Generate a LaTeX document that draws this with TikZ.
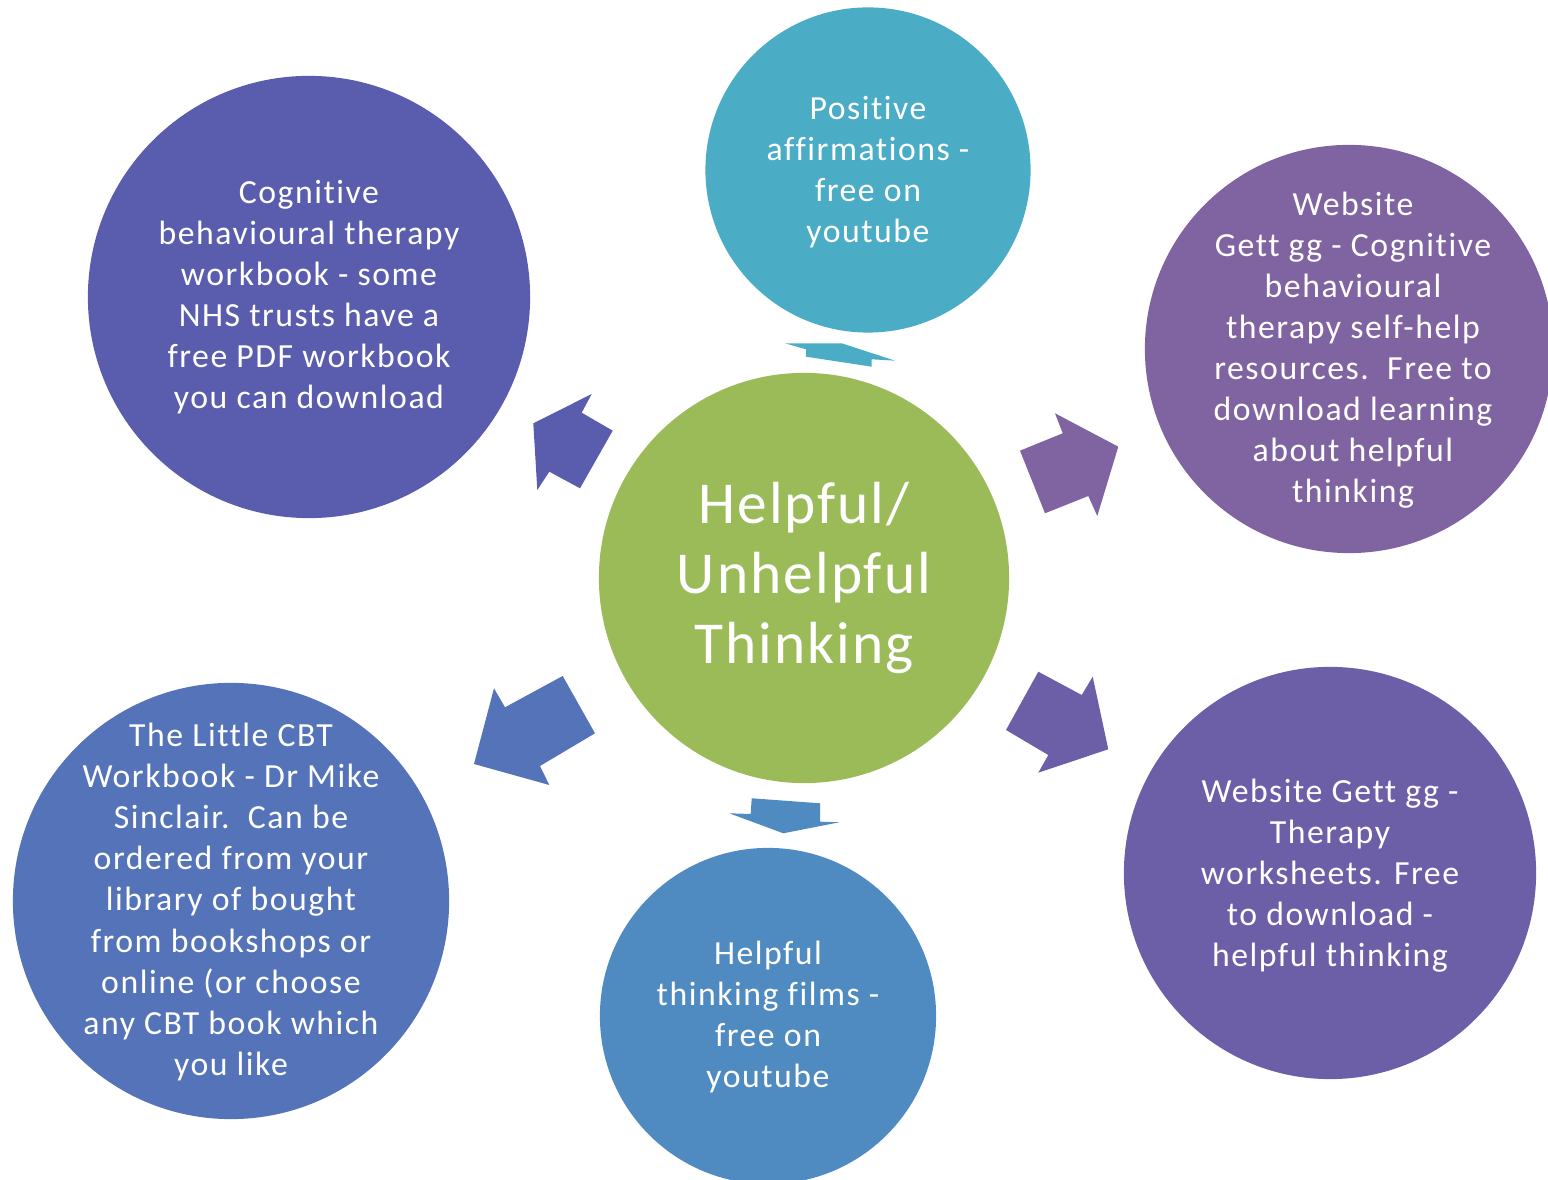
\documentclass[tikz,border=0pt]{standalone}
\usepackage{fontspec}
\setmainfont{Carlito}
\newfontfamily\smallfont{Carlito}[LetterSpace=4.5,Ligatures=CommonOff]
\newfontfamily\bigfont{Carlito}[LetterSpace=3.5,Ligatures=CommonOff]
\definecolor{cgreen}{HTML}{9BBB59}
\definecolor{cteal}{HTML}{4BACC6}
\definecolor{cindigo}{HTML}{5A5DAE}
\definecolor{cpurple}{HTML}{8064A2}
\definecolor{cviolet}{HTML}{6C5FA7}
\definecolor{cblue}{HTML}{4F8BC0}
\definecolor{croyal}{HTML}{5473B8}
\begin{document}
\begin{tikzpicture}[x=0.01cm,y=-0.01cm,
  bubble/.style={circle,inner sep=0pt,draw=none},
  txt/.style={text=white,align=center,font=\smallfont\fontsize{9.6pt}{11.67pt}\selectfont},
  bigtxt/.style={text=white,align=center,font=\bigfont\fontsize{16.9pt}{19.9pt}\selectfont}]
\useasboundingbox (0,0) rectangle (1548,1180);
% circles
\node[bubble,fill=cgreen,minimum size=4.10cm] (hub) at (804,578) {};
\node[bubble,fill=cteal,minimum size=3.25cm] (pos) at (868,170) {};
\node[bubble,fill=cindigo,minimum size=4.42cm] (cbt) at (309,297) {};
\node[bubble,fill=cpurple,minimum size=4.08cm] (web1) at (1349,349) {};
\node[bubble,fill=cviolet,minimum size=4.12cm] (web2) at (1330,873) {};
\node[bubble,fill=cblue,minimum size=3.36cm] (films) at (768,1016) {};
\node[bubble,fill=croyal,minimum size=4.36cm] (little) at (231,901) {};
% block arrows
\fill[cindigo] (591.7,394) -- (581.7,412.7) -- (612.7,430.7) -- (580,488.3) -- (549.3,471.7) -- (537.3,490) -- (533.3,423.3) -- cycle;
\fill[cteal] (785,343.3) -- (841.7,343.3) -- (895,360.7) -- (871.7,359.3) -- (871.7,366.7) -- (806,356.7) -- (806,349.3) -- cycle;
\fill[cpurple] (1055,413.3) -- (1062.7,433.3) -- (1020,450.7) -- (1045,513.3) -- (1088.3,496) -- (1097.3,516) -- (1118.3,446.7) -- cycle;
\fill[cviolet] (1038.3,671.7) -- (1081.7,695) -- (1092.7,676.7) -- (1108.3,749.3) -- (1038.3,772.7) -- (1048.3,755) -- (1006,730) -- cycle;
\fill[cblue] (751.7,798.3) -- (820,803.3) -- (820,821.7) -- (839.3,822.3) -- (783.3,833.3) -- (729.3,813.3) -- (750.7,814) -- cycle;
\fill[croyal] (562.7,676) -- (595,733.3) -- (540,766) -- (549.3,785) -- (474,764) -- (494,688.3) -- (505,707.3) -- cycle;
% texts
\node[bigtxt] (hubt) at (hub.center) {Helpful/\\Unhelpful\\Thinking};
\node[txt] (post) at (868,172) {Positive\\affirmations -\\free on\\youtube};
\node[txt] (cbtt) at (cbt.center) {Cognitive\\behavioural therapy\\workbook - some\\NHS trusts have a\\free PDF workbook\\you can download};
\node[txt] (web1t) at (1353,350) {Website\\Gett gg - Cognitive\\behavioural\\therapy self-help\\resources.\ \ Free to\\download learning\\about helpful\\thinking};
\node[txt] (web2t) at (1330,876) {Website Gett gg -\\Therapy\\worksheets. Free\\to download -\\helpful thinking};
\node[txt] (filmst) at (768,1017) {Helpful\\thinking films -\\free on\\youtube};
\node[txt] (littlet) at (231,902) {The Little CBT\\Workbook - Dr Mike\\Sinclair.\ \ Can be\\ordered from your\\library of bought\\from bookshops or\\online (or choose\\any CBT book which\\you like};
\end{tikzpicture}
\end{document}
